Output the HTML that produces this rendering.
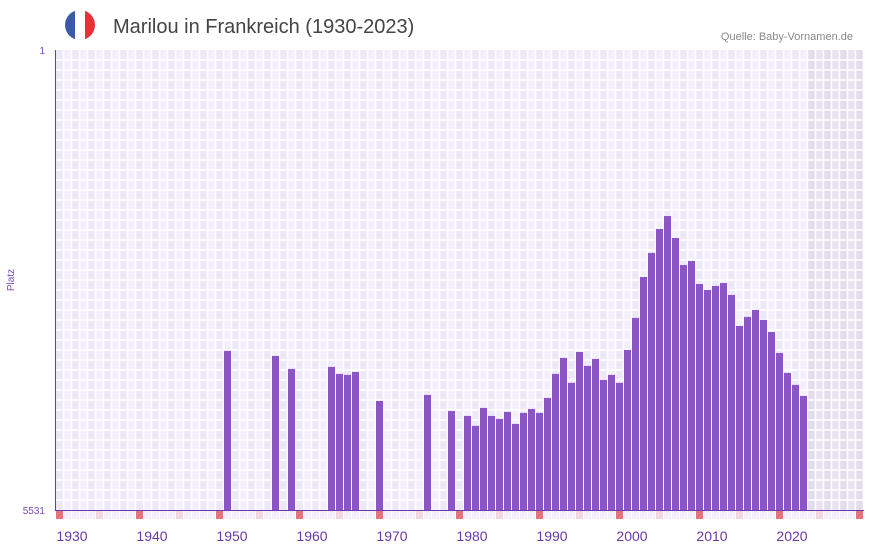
<!DOCTYPE html>
<html><head><meta charset="utf-8"><style>
body{margin:0;background:#fff;font-family:"Liberation Sans",sans-serif;}
svg text{font-family:"Liberation Sans",sans-serif;}
</style></head><body>
<svg id="c" width="873" height="552" xmlns="http://www.w3.org/2000/svg">
<g>
<clipPath id="fc"><circle cx="80" cy="25" r="15"/></clipPath>
<g clip-path="url(#fc)"><rect x="65" y="10" width="10" height="30" fill="#3a5aa8"/><rect x="75" y="10" width="10" height="30" fill="#fff"/><rect x="85" y="10" width="10" height="30" fill="#e8303a"/></g>
</g>
<text x="113" y="33" font-size="20" fill="#444">Marilou in Frankreich (1930-2023)</text>
<text x="853" y="40" font-size="11" fill="#888" text-anchor="end">Quelle: Baby-Vornamen.de</text>
<text x="14" y="280" font-size="10" fill="#7a4ab8" text-anchor="middle" transform="rotate(-90 14 280)">Platz</text>
<g id="bg"></g><g id="bars"></g><g id="axes"></g>
</svg>
<script>
const years=[1950,1956,1958,1963,1964,1965,1966,1969,1975,1978,1980,1981,1982,1983,1984,1985,1986,1987,1988,1989,1990,1991,1992,1993,1994,1995,1996,1997,1998,1999,2000,2001,2002,2003,2004,2005,2006,2007,2008,2009,2010,2011,2012,2013,2014,2015,2016,2017,2018,2019,2020,2021,2022];
const ranks=[3618,3679,3835,3811,3895,3907,3871,4220,4148,4340,4400,4520,4304,4400,4436,4352,4496,4364,4316,4364,4184,3895,3703,4003,3631,3799,3715,3967,3907,4003,3607,3222,2730,2441,2153,1997,2261,2586,2537,2814,2886,2838,2802,2946,3319,3210,3126,3246,3391,3643,3883,4027,4160];
const xTicks=[1930,1940,1950,1960,1970,1980,1990,2000,2010,2020];
const yTicks=[1,5531];
const NS="http://www.w3.org/2000/svg";
const X0=56,SLOT=8,Y0=50,Y1=510,MAXR=5531,FIRST=1929,LAST=2029,DATAEND=2022;
function xs(y){return X0+(y-FIRST)*SLOT;}
function ys(r){return Y0+(r-1)/(MAXR-1)*(Y1-Y0);}
function mk(t,a,p){const e=document.createElementNS(NS,t);for(const k in a)e.setAttribute(k,a[k]);p.appendChild(e);return e;}
const bg=document.getElementById('bg');
for(let y=FIRST;y<=LAST;y++){
  const shade=y>DATAEND;
  const c=(y%2)?(shade?'#e2dcec':'#ede7f8'):(shade?'#e8e3ef':'#f3effb');
  const r=mk('rect',{x:xs(y),y:Y0,width:SLOT,height:Y1-Y0,fill:c},bg);
  
  
  const d=y%10;
  const m=mk('rect',{x:xs(y),y:Y1+1,width:SLOT-1,height:8,fill:d===9?'#e5747c':(d===4?'#f4d6e0':'#f3effb')},bg);
  
  
}
for(let y=Y0+10;y<Y1;y+=10){const l=mk('line',{x1:X0,x2:864,y1:y,y2:y,stroke:'#fff','stroke-width':1.5},bg);}
for(let y=FIRST;y<=LAST;y++){const l=mk('line',{x1:xs(y)+7.5,x2:xs(y)+7.5,y1:Y0,y2:Y1,stroke:'#fff','stroke-width':1.5},bg);}
const bars=document.getElementById('bars');
years.forEach((yr,i)=>{
  const t=ys(ranks[i]);
  const b=mk('rect',{x:xs(yr),y:t,width:7,height:Y1-t,fill:'#8b55c8'},bars);
  
  
});
const ax=document.getElementById('axes');
const la=mk('line',{x1:55.5,x2:55.5,y1:Y0,y2:Y1,stroke:'#6a3aa8','stroke-width':1},ax);


const lb=mk('line',{x1:55,x2:864,y1:Y1+0.5,y2:Y1+0.5,stroke:'#6a3aa8','stroke-width':1},ax);


yTicks.forEach(r=>{const t=mk('text',{x:45,y:ys(r)+4,'font-size':10,fill:'#7a4ab8','text-anchor':'end'},ax);t.textContent=r;});
xTicks.forEach(y=>{const t=mk('text',{x:xs(y)+8,y:541,'font-size':14,fill:'#6a3aa8','text-anchor':'middle'},ax);t.textContent=y;});
</script>
</body></html>
